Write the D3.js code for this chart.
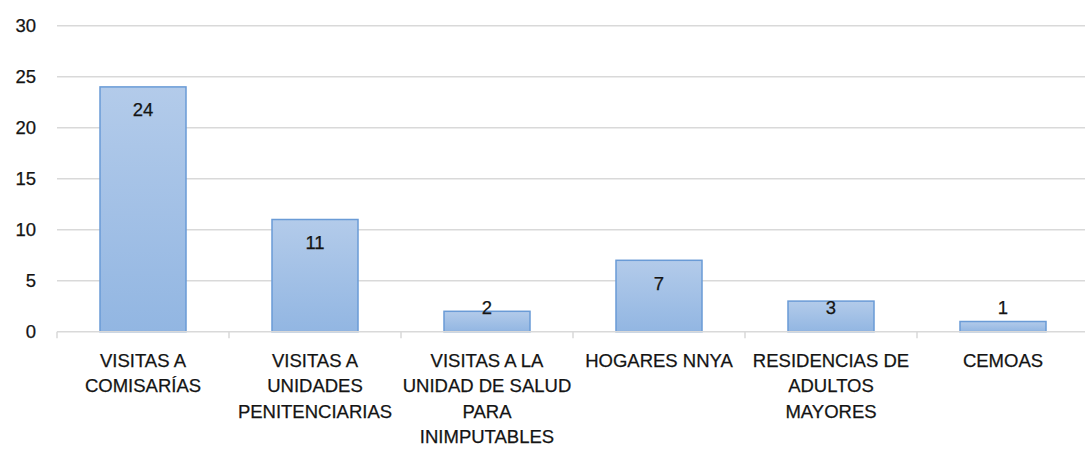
<!DOCTYPE html>
<html>
<head>
<meta charset="utf-8">
<script src="https://cdn.jsdelivr.net/npm/d3@7"></script>
<style>
body { margin: 0; background: #fff; }
svg text { font-family: "Liberation Sans", Arial, sans-serif; fill: #141414; stroke: #141414; stroke-width: 0.25px; }
</style>
</head>
<body>
<svg width="1085" height="450"></svg>
<script>
// datos
const categories = [
    "VISITAS A\nCOMISARÍAS",
    "VISITAS A\nUNIDADES\nPENITENCIARIAS",
    "VISITAS A LA\nUNIDAD DE SALUD\nPARA\nINIMPUTABLES",
    "HOGARES NNYA",
    "RESIDENCIAS DE\nADULTOS\nMAYORES",
    "CEMOAS"
]
const values = [24, 11, 2, 7, 3, 1]
const yTicks = [0, 5, 10, 15, 20, 25, 30]

const svg = d3.select("svg")

const x = d3.scaleBand()
    .domain(categories)
    .range([57, 1089])
    .paddingInner(0.5)
    .paddingOuter(0.25)

const y = d3.scaleLinear()
    .domain([0, 30])
    .range([331.7, 25.7])

// gradiente de las barras
const grad = svg.append("defs").append("linearGradient")
    .attr("id", "barGrad")
    .attr("x1", 0).attr("y1", 0).attr("x2", 0).attr("y2", 1)
grad.append("stop").attr("offset", "0%").attr("stop-color", "#b3cbea")
grad.append("stop").attr("offset", "100%").attr("stop-color", "#92b6e2")

// grilla
svg.append("g")
    .selectAll("line")
    .data(yTicks.filter(d => d > 0))
    .join("line")
    .attr("x1", 57)
    .attr("x2", 1085)
    .attr("y1", d => y(d))
    .attr("y2", d => y(d))
    .attr("stroke", "#d9d9d9")
    .attr("stroke-width", 1.5)

// eje y
const yAxis = svg.append("g")
    .attr("transform", "translate(36,0)")
    .call(d3.axisLeft(y).tickValues(yTicks).tickSize(0).tickPadding(0))
yAxis.select(".domain").remove()
yAxis.selectAll("text")
    .attr("dy", "0.3em")
    .style("font-size", "18.5px")

// barras
svg.append("g")
    .selectAll("rect")
    .data(values)
    .join("rect")
    .attr("x", (d, i) => x(categories[i]))
    .attr("y", d => y(d))
    .attr("width", x.bandwidth())
    .attr("height", d => y(0) - y(d))
    .attr("fill", "url(#barGrad)")
    .attr("stroke", "#6a9bd6")
    .attr("stroke-width", 1.5)

// eje x
const xAxis = svg.append("g")
    .attr("transform", "translate(0," + y(0) + ")")
    .call(d3.axisBottom(x).tickSize(0).tickFormat(""))
xAxis.select(".domain")
    .attr("d", "M57,0H1085")
    .attr("stroke", "#d9d9d9")
    .attr("stroke-width", 1.5)

// marcas entre categorias
svg.append("g")
    .selectAll("line")
    .data(categories)
    .join("line")
    .attr("x1", d => x(d) - x.step() * 0.25)
    .attr("x2", d => x(d) - x.step() * 0.25)
    .attr("y1", y(0))
    .attr("y2", y(0) + 6.5)
    .attr("stroke", "#d9d9d9")
    .attr("stroke-width", 1.5)

// etiquetas de categorias
svg.append("g")
    .selectAll("text")
    .data(categories)
    .join("text")
    .attr("text-anchor", "middle")
    .style("font-size", "18.5px")
    .each(function(d) {
        const t = d3.select(this)
        d.split("\n").forEach((line, k) => {
            t.append("tspan")
                .attr("x", x(d) + x.bandwidth() / 2)
                .attr("y", 366.5 + k * 25.5)
                .text(line)
        })
    })

// etiquetas de valores
svg.append("g")
    .selectAll("text")
    .data(values)
    .join("text")
    .attr("text-anchor", "middle")
    .attr("x", (d, i) => x(categories[i]) + x.bandwidth() / 2)
    .attr("y", d => Math.min(y(d) + 23, y(0) - 24))
    .attr("dy", "0.35em")
    .style("font-size", "18.5px")
    .text(d => d)
</script>
</body>
</html>
